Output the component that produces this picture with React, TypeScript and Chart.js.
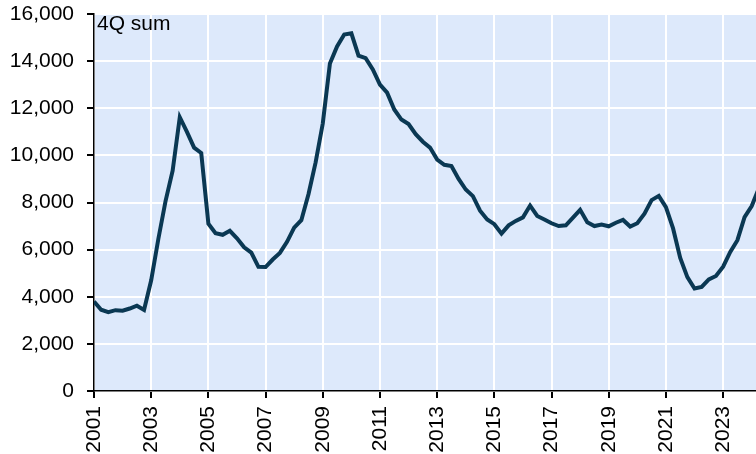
import React, { useEffect, useRef } from "react";
import { Chart, registerables } from "chart.js";

Chart.register(...registerables);

const START_YEAR = 2001;
const PERIODS_PER_YEAR = 4;
// Quarterly values, 4Q sum, from 2001Q1
const values: number[] = [
  3800, 3450, 3350, 3430, 3410, 3500, 3620, 3440,
  4700, 6450, 8050, 9350, 11620, 11000, 10330, 10100,
  7100, 6700, 6630, 6800, 6480, 6100, 5870, 5270,
  5260, 5580, 5860, 6330, 6930, 7250, 8350, 9700,
  11350, 13900, 14620, 15130, 15180, 14230, 14130, 13650,
  13000, 12660, 11950, 11520, 11330, 10900, 10580, 10330,
  9820, 9600, 9550, 9000, 8550, 8270, 7650, 7280,
  7080, 6680, 7030, 7220, 7370, 7870, 7430, 7280,
  7120, 7000, 7030, 7360, 7690, 7160, 7000, 7060,
  6990, 7140, 7260, 6980, 7120, 7530, 8100, 8280,
  7800, 6900, 5650, 4830, 4350, 4420, 4740, 4880,
  5280, 5900, 6400, 7380, 7850, 8600,
];
const xTickYears: number[] = [2001, 2003, 2005, 2007, 2009, 2011, 2013, 2015, 2017, 2019, 2021, 2023];
const yTicks: number[] = [0, 2000, 4000, 6000, 8000, 10000, 12000, 14000, 16000];
const annotationText = "4Q sum";

const FONT = "Arial, 'Liberation Sans', sans-serif";
const FONT_SIZE = 21;

export default function App() {
  const ref = useRef<HTMLCanvasElement | null>(null);

  useEffect(() => {
    document.body.style.margin = "0";
    const canvas = ref.current;
    if (!canvas) return;
    const points = values.map((v, i) => ({ x: START_YEAR + i / PERIODS_PER_YEAR, y: v }));

    const bgPlugin = {
      id: "bgPlugin",
      beforeDraw(chart: any) {
        const { ctx, chartArea } = chart;
        ctx.save();
        ctx.fillStyle = "#dde9fb";
        ctx.fillRect(chartArea.left, chartArea.top, chartArea.right - chartArea.left, chartArea.bottom - chartArea.top);
        ctx.restore();
      },
      afterDraw(chart: any) {
        const { ctx, chartArea } = chart;
        ctx.save();
        ctx.fillStyle = "#000";
        ctx.font = `${FONT_SIZE}px ${FONT}`;
        ctx.textBaseline = "top";
        ctx.textAlign = "left";
        ctx.fillText(annotationText, chartArea.left + 3, chartArea.top + 0);
        ctx.restore();
      },
    };

    const chart = new Chart(canvas, {
      type: "line",
      data: {
        datasets: [
          {
            data: points,
            borderColor: "#0a3853",
            borderWidth: 4,
            pointRadius: 0,
            tension: 0,
            fill: false,
          },
        ],
      },
      options: {
        animation: false,
        responsive: false,
        maintainAspectRatio: false,
        layout: { padding: { top: 14, right: 0, left: 0, bottom: 0 } },
        plugins: { legend: { display: false }, tooltip: { enabled: false } },
        scales: {
          x: {
            type: "linear",
            min: START_YEAR,
            max: 2024.15,
            afterBuildTicks(scale: any) {
              scale.ticks = xTickYears.map((v) => ({ value: v }));
            },
            afterFit(scale: any) {
              scale.height = 63;
              scale.paddingLeft = 0;
              scale.paddingRight = 0;
            },
            ticks: {
              callback: (v: any) => String(v),
              maxRotation: 90,
              minRotation: 90,
              padding: 8,
              color: "#000",
              font: { size: FONT_SIZE, family: FONT },
              autoSkip: false,
            },
            grid: {
              color: "#ffffff",
              lineWidth: 2,
              tickColor: "#000",
              tickLength: 7,
              drawTicks: true,
            },
            border: { color: "#000", width: 1.5 },
          },
          y: {
            min: 0,
            max: 16000,
            afterBuildTicks(scale: any) {
              scale.ticks = yTicks.map((v) => ({ value: v }));
            },
            afterFit(scale: any) {
              scale.width = 94;
              scale.paddingTop = 0;
              scale.paddingBottom = 0;
            },
            ticks: {
              callback: (v: any) => Number(v).toLocaleString("en-US"),
              padding: 13,
              color: "#000",
              font: { size: FONT_SIZE, family: FONT },
            },
            grid: {
              color: "#ffffff",
              lineWidth: 2,
              tickColor: "#000",
              tickLength: 7,
              drawTicks: true,
            },
            border: { color: "#000", width: 1.5 },
          },
        },
      },
      plugins: [bgPlugin],
    });
    return () => chart.destroy();
  }, []);

  return (
    <div style={{ width: 756, height: 454 }}>
      <canvas ref={ref} width={756} height={454} style={{ display: "block" }} />
    </div>
  );
}
